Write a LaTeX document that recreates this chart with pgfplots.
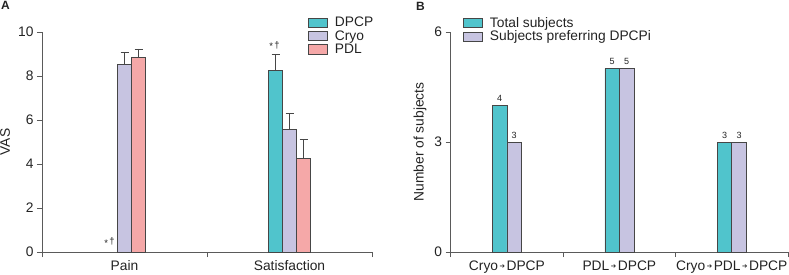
\documentclass[border=0pt]{standalone}
\usepackage{pgfplots}
\pgfplotsset{compat=1.18}
\usepackage{fontspec}
\setmainfont{Liberation Sans}
\newfontfamily\dejavu{DejaVu Sans}
\definecolor{cA}{RGB}{80,196,204}
\definecolor{cB}{RGB}{199,196,225}
\definecolor{cC}{RGB}{245,168,168}
\definecolor{edge}{RGB}{70,70,70}
\definecolor{axc}{RGB}{90,90,90}
\definecolor{txt}{RGB}{35,35,35}
\newcommand\arr{\hspace{1.5pt}{\dejavu\fontsize{6.5}{7}\selectfont\raisebox{1.2pt}{➔}}\hspace{1.5pt}}
\newcommand\sig{\raisebox{-1.5pt}{*}\hspace{1.2pt}†}
\pgfplotsset{
  common/.style={
    scale only axis, height=220pt,
    axis x line*=bottom, axis y line*=left,
    axis line style={axc, line width=0.7pt, -},
    tick align=outside,
    tick style={axc, line width=0.7pt},
    major tick length=5pt, minor tick length=5pt,
    major x tick style={draw=none},
    ymin=0,
    font=\fontsize{13.8}{16}\selectfont,
    every tick label/.append style={txt},
    /pgf/number format/assume math mode=true,
    ybar, ybar=0pt,
    legend image code/.code={\draw[#1] (0pt,-4.6pt) rectangle (19pt,4.6pt);},
    legend style={draw=none, fill=none, anchor=north west, inner sep=0pt,
      font=\fontsize{13.8}{16}\selectfont, row sep=-1.8pt, column sep=5pt, text=txt,
      nodes={inner sep=2pt}},
    legend cell align=left,
  },
  barst/.style={draw=edge, line width=0.7pt, fill=#1},
}
\begin{document}
\begin{tikzpicture}
\path[use as bounding box] (0pt,0pt) rectangle (789pt,274pt);
\node[anchor=north west, font=\bfseries\fontsize{12}{12}\selectfont, inner sep=0, text=txt] at (1pt,273pt) {A};
\node[anchor=north west, font=\bfseries\fontsize{12}{12}\selectfont, inner sep=0, text=txt] at (416pt,272pt) {B};

\begin{axis}[common,
  at={(42pt,22pt)}, anchor=south west, width=330pt,
  xmin=0, xmax=2, ymax=10,
  xtick={0.5,1.5}, xticklabels={Pain,Satisfaction},
  minor xtick={0,1,2},
  ytick={0,2,4,6,8,10},
  bar width=14pt,
  ylabel={VAS},
  ylabel style={at={(axis description cs:-0.112,0.5)}, anchor=center, text=txt},
  legend style={at={(0.806,1.077)}},
  error bars/y dir=plus, error bars/y explicit,
  error bars/error bar style={edge, line width=0.7pt},
  error bars/error mark options={edge, line width=0.7pt, mark size=4pt, rotate=90},
]
\addplot[barst=cA] coordinates {(1.5,8.27) +- (0,0.72)};
\addplot[barst=cB] coordinates {(0.5,8.53) +- (0,0.55) (1.5,5.59) +- (0,0.71)};
\addplot[barst=cC] coordinates {(0.5,8.83) +- (0,0.40) (1.5,4.26) +- (0,0.86)};
\legend{DPCP,Cryo,PDL}
\node[anchor=base, font=\fontsize{9.5}{10}\selectfont, text=txt, inner sep=0pt, xshift=-15pt] at (axis cs:0.5,0.32) {\sig};
\node[anchor=base, font=\fontsize{9.5}{10}\selectfont, text=txt, inner sep=0pt, xshift=-15pt] at (axis cs:1.5,9.27) {\sig};
\end{axis}

\begin{axis}[common,
  at={(450.7pt,22pt)}, anchor=south west, width=337.3pt,
  xmin=0, xmax=3, ymax=6,
  xtick={0.5,1.5,2.5},
  xticklabels={Cryo\arr DPCP, PDL\arr DPCP, Cryo\arr PDL\arr DPCP},
  minor xtick={0,1,2,3},
  ytick={0,3,6},
  bar width=14.5pt,
  ylabel={Number of subjects},
  ylabel style={at={(axis description cs:-0.091,0.5)}, anchor=center, text=txt},
  legend style={at={(0.0365,1.077)}},
  nodes near coords,
  every node near coord/.append style={font=\fontsize{9}{9}\selectfont, text=txt},
]
\addplot[barst=cA] coordinates {(0.5,4) (1.5,5) (2.5,3)};
\addplot[barst=cB] coordinates {(0.5,3) (1.5,5) (2.5,3)};
\legend{Total subjects,Subjects preferring DPCPi}
\end{axis}
\end{tikzpicture}
\end{document}
